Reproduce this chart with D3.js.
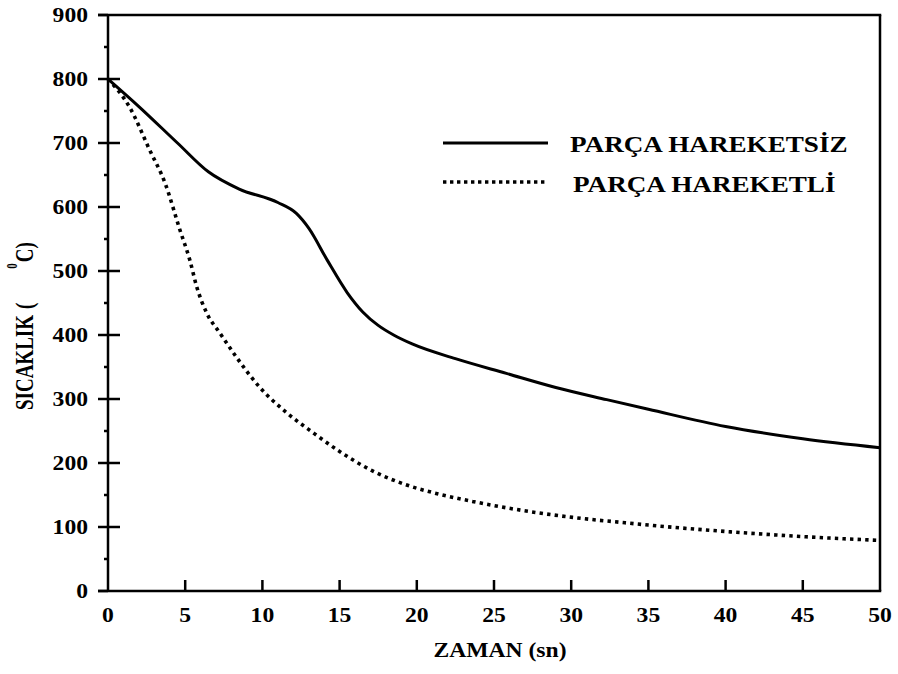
<!DOCTYPE html>
<html>
<head>
<meta charset="utf-8">
<script src="https://cdn.jsdelivr.net/npm/d3@7"></script>
<style>
  html, body { margin: 0; padding: 0; background: #fff; }
  svg { display: block; }
  text { font-family: "Liberation Serif", "Times New Roman", serif; font-weight: bold; fill: #000; }
</style>
</head>
<body>
<svg id="chart" width="898" height="674"></svg>
<script>
// Time (s) and temperature (°C) readings for the two cooling cases
const timeStill = [0, 2, 4.5, 6.5, 8.5, 11, 12.2, 13, 14.2, 15.5, 16.5, 17.5, 18.5, 19.7, 22.5, 25.8, 29, 32.3, 35, 40, 45, 50];
const tempStill = [800, 757, 700, 655, 628, 607, 590, 567, 517, 466, 436, 415, 400, 386, 363, 340, 318, 299, 284, 257, 238, 224];

const timeMoving = [0, 1.4, 2.7, 3.7, 4.66, 5.3, 5.75, 6.4, 7.25, 8.3, 9.8, 11.6, 13.3, 15, 17.1, 19.3, 21.5, 23.6, 25.8, 27.9, 30.1, 33.3, 35, 40, 45, 50];
const tempMoving = [800, 756, 689, 637, 564, 517, 475, 434, 403, 366, 319, 278, 247, 218, 188, 166, 151, 140, 130, 122, 115, 107, 103, 93, 85, 79];

const xTicks = [0, 5, 10, 15, 20, 25, 30, 35, 40, 45, 50];
const yTicks = [0, 100, 200, 300, 400, 500, 600, 700, 800, 900];
const yMinorTicks = [50, 150, 250, 350, 450, 550, 650, 750, 850];

const seriesNames = ["PARÇA HAREKETSİZ", "PARÇA HAREKETLİ"];
const xTitle = "ZAMAN (sn)";

const svg = d3.select("#chart");
const plotLeft = 108, plotRight = 880, plotTop = 15, plotBottom = 591;
const stretch = 1.18; // horizontal widening of the serif glyphs
const axisWidth = 2.5;

const x = d3.scaleLinear().domain([0, 50]).range([plotLeft, plotRight]);
const y = d3.scaleLinear().domain([0, 900]).range([plotBottom, plotTop]);

// Y major ticks: cross the axis, 10px out and 12px in (except at the frame edges)
svg.append("g").selectAll("line").data(yTicks).join("line")
  .attr("x1", plotLeft - 10)
  .attr("x2", d => (d > 0 && d < 900) ? plotLeft + 12 : plotLeft)
  .attr("y1", d => y(d)).attr("y2", d => y(d))
  .attr("stroke", "#000").attr("stroke-width", axisWidth);

// Y minor ticks: short, outside only
svg.append("g").selectAll("line").data(yMinorTicks).join("line")
  .attr("x1", plotLeft - 4).attr("x2", plotLeft)
  .attr("y1", d => y(d)).attr("y2", d => y(d))
  .attr("stroke", "#000").attr("stroke-width", axisWidth);

// Y tick labels
svg.append("g").selectAll("text").data(yTicks).join("text")
  .attr("text-anchor", "end").attr("font-size", 20)
  .attr("transform", d => `translate(${plotLeft - 20},${y(d) + 7}) scale(${stretch},1)`)
  .text(d => d);

// X ticks pointing up into the plot
svg.append("g").selectAll("line").data(xTicks.filter(d => d > 0 && d < 50)).join("line")
  .attr("x1", d => x(d)).attr("x2", d => x(d))
  .attr("y1", plotBottom).attr("y2", plotBottom - 11)
  .attr("stroke", "#000").attr("stroke-width", axisWidth);

// X tick labels
svg.append("g").selectAll("text").data(xTicks).join("text")
  .attr("text-anchor", "middle").attr("font-size", 20)
  .attr("transform", d => `translate(${x(d)},${plotBottom + 31}) scale(${stretch},1)`)
  .text(d => d);

// Frame
const frame = svg.append("g").attr("stroke", "#000").attr("stroke-width", axisWidth).attr("fill", "none");
frame.append("line").attr("x1", plotLeft - 10).attr("x2", plotRight + 1.25).attr("y1", plotTop).attr("y2", plotTop);
frame.append("line").attr("x1", plotLeft - 10).attr("x2", plotRight + 1.25).attr("y1", plotBottom).attr("y2", plotBottom);
frame.append("line").attr("x1", plotLeft).attr("x2", plotLeft).attr("y1", plotTop).attr("y2", plotBottom);
frame.append("line").attr("x1", plotRight).attr("x2", plotRight).attr("y1", plotTop).attr("y2", plotBottom);

// Curves
const line = d3.line().x(d => x(d[0])).y(d => y(d[1])).curve(d3.curveMonotoneX);
const stillData = d3.zip(timeStill, tempStill);
const movingData = d3.zip(timeMoving, tempMoving);

svg.append("path").datum(stillData).attr("d", line)
  .attr("fill", "none").attr("stroke", "#000").attr("stroke-width", 3);
svg.append("path").datum(movingData).attr("d", line)
  .attr("fill", "none").attr("stroke", "#000").attr("stroke-width", 3.6)
  .attr("stroke-dasharray", "3.4 4.2");

// Legend
const legend = svg.append("g");
const legendRows = [
  { name: seriesNames[0], y: 143, dash: null, width: 3, textX: 570, textY: 152 },
  { name: seriesNames[1], y: 182, dash: "3.4 3.6", width: 3.6, textX: 573, textY: 192 }
];
legendRows.forEach(r => {
  legend.append("line").attr("x1", 443).attr("x2", 548).attr("y1", r.y).attr("y2", r.y)
    .attr("stroke", "#000").attr("stroke-width", r.width)
    .attr("stroke-dasharray", r.dash);
  legend.append("text").attr("font-size", 23)
    .attr("transform", `translate(${r.textX},${r.textY}) scale(${stretch},1)`)
    .text(r.name);
});

// Axis titles
svg.append("text").attr("font-size", 20).attr("text-anchor", "middle")
  .attr("transform", `translate(500,657) scale(${stretch},1)`)
  .text(xTitle);

const yTitle = svg.append("text").attr("font-size", 19).attr("text-anchor", "start")
  .attr("transform", "translate(33,410) scale(1.27,1) rotate(-90)");
yTitle.append("tspan").text("SICAKLIK");
yTitle.append("tspan").attr("dx", 6).text("(");
yTitle.append("tspan").attr("dx", 34).attr("dy", -13).attr("font-size", 11).text("0");
yTitle.append("tspan").attr("dx", 1).attr("dy", 13).text("C)");
</script>
</body>
</html>
